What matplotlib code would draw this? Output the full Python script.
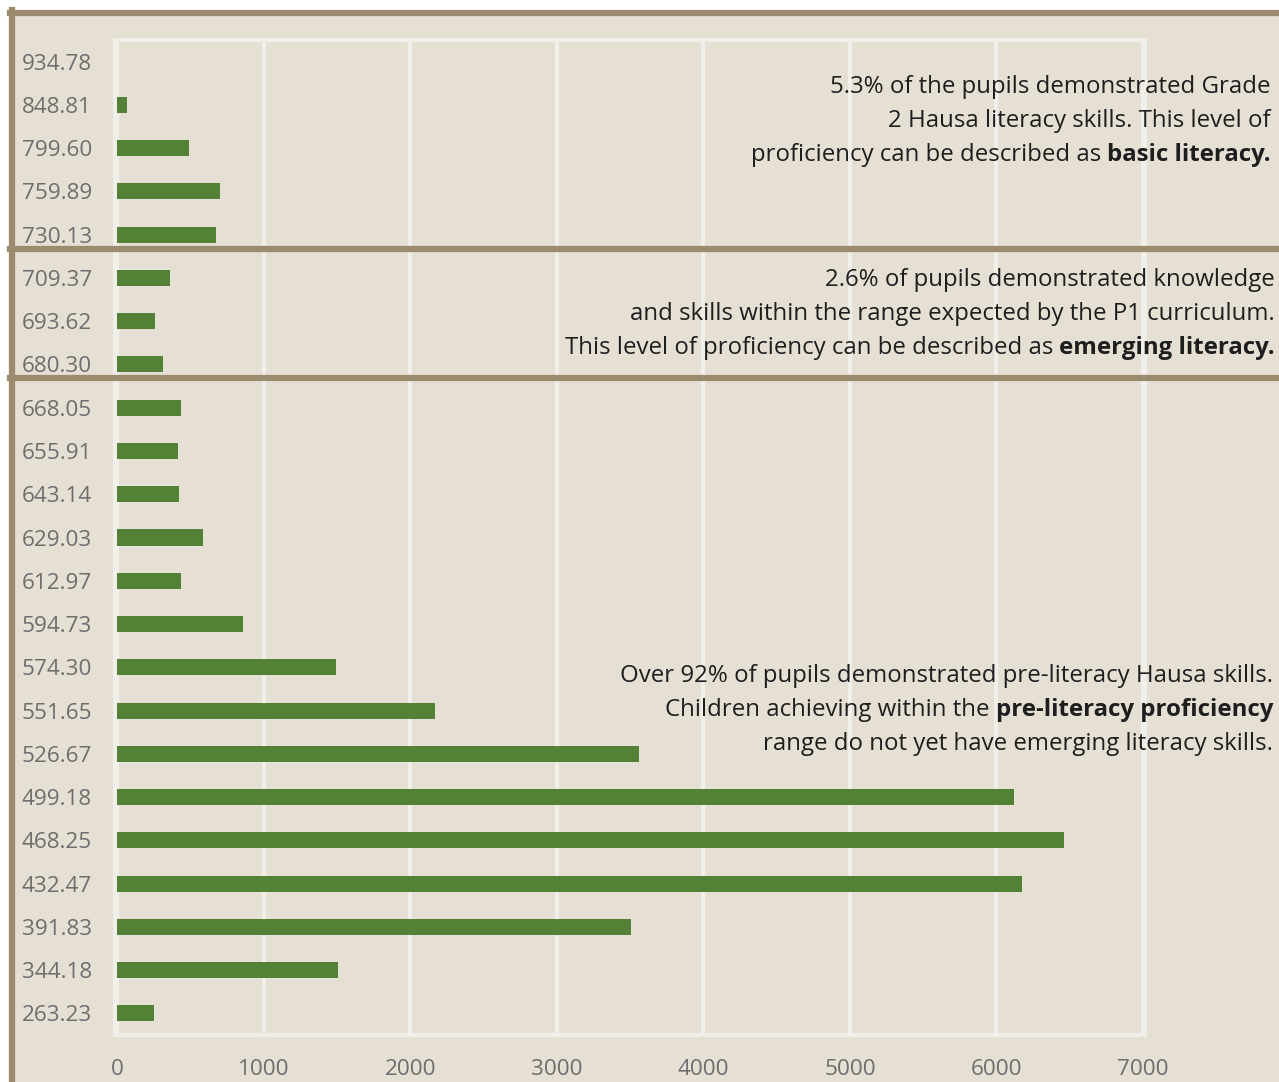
import numpy as np
import matplotlib.pyplot as plt
from matplotlib.patches import Rectangle
from matplotlib.lines import Line2D

# score levels (bottom to top) and number of pupils
scores = ["263.23", "344.18", "391.83", "432.47", "468.25", "499.18", "526.67",
          "551.65", "574.30", "594.73", "612.97", "629.03", "643.14", "655.91",
          "668.05", "680.30", "693.62", "709.37", "730.13", "759.89", "799.60",
          "848.81", "934.78"]
pupils = [252, 1507, 3506, 6173, 6460, 6119, 3561,
          2169, 1494, 859, 437, 587, 423, 416,
          437, 314, 259, 362, 675, 703, 491,
          65, 0]

x_ticks = [0, 1000, 2000, 3000, 4000, 5000, 6000, 7000]

bg = "#e6dfd4"
brown = "#9c8b6e"
green = "#538135"
grid_c = "#f1efea"

plt.rcParams['font.family'] = ['Open Sans', 'DejaVu Sans']

W, H = 1279, 1082
fig = plt.figure(figsize=(W / 100, H / 100), dpi=100, facecolor="white")

# beige panel with brown frame (top and left edges)
fig.patches.append(Rectangle((12 / W, 0), 1 - 12 / W, 1 - 12 / H,
                             transform=fig.transFigure, facecolor=bg,
                             edgecolor="none", zorder=-5))

ax = fig.add_axes([115 / W, 1 - 1035 / H, 1030 / W, 995 / H])
ax.set_facecolor(bg)
y = np.arange(len(scores))
ax.barh(y, pupils, height=0.37, color=green, edgecolor="none", zorder=3)
ax.set_yticks(y)
ax.set_yticklabels(scores)
ax.set_ylim(-0.5, len(scores) - 0.5)
ax.set_xlim(-14, 7014)
ax.set_xticks(x_ticks)
ax.xaxis.grid(True, color=grid_c, linewidth=3, zorder=1)
ax.set_axisbelow(True)
for s in ax.spines.values():
    s.set_color(grid_c)
    s.set_linewidth(3)
ax.tick_params(axis="both", length=0, labelsize=16.2, labelcolor="#6e6e6e")
ax.tick_params(axis="y", pad=16.5)
ax.tick_params(axis="x", pad=17)

# frame and section separators
def hline(ypix, x0=10):
    fig.add_artist(Line2D([x0 / W, 1], [1 - ypix / H] * 2, color=brown,
                          linewidth=4.5, transform=fig.transFigure, zorder=10))

hline(12.5)
fig.add_artist(Line2D([12 / W] * 2, [0, 1 - 10 / H], color=brown, linewidth=4.5,
                      transform=fig.transFigure, zorder=10))
hline(249)
hline(378)

# annotation blocks: (right x, first line y, [(normal, bold), ...])
blocks = [
    (1271, 87, [("5.3% of the pupils demonstrated Grade", ""),
                ("2 Hausa literacy skills. This level of", ""),
                ("proficiency can be described as ", "basic literacy.")]),
    (1275, 280, [("2.6% of pupils demonstrated knowledge", ""),
                 ("and skills within the range expected by the P1 curriculum.", ""),
                 ("This level of proficiency can be described as ", "emerging literacy.")]),
    (1273, 676, [("Over 92% of pupils demonstrated pre-literacy Hausa skills.", ""),
                 ("Children achieving within the ", "pre-literacy proficiency"),
                 ("range do not yet have emerging literacy skills.", "")]),
]

fs = 17.3
renderer = fig.canvas.get_renderer()
for xr, y0, lines in blocks:
    for i, (normal, bold) in enumerate(lines):
        yp = 1 - (y0 + i * 34) / H
        xcur = xr / W
        if bold:
            t = fig.text(xcur, yp, bold, fontsize=fs, fontweight="bold",
                         ha="right", va="center", color="#1e1e1e", zorder=12)
            bb = t.get_window_extent(renderer)
            xcur = bb.x0 / W
        fig.text(xcur, yp, normal, fontsize=fs, ha="right", va="center",
                 color="#1e1e1e", zorder=12)

fig.savefig("out.png", dpi=100, facecolor=fig.get_facecolor())
